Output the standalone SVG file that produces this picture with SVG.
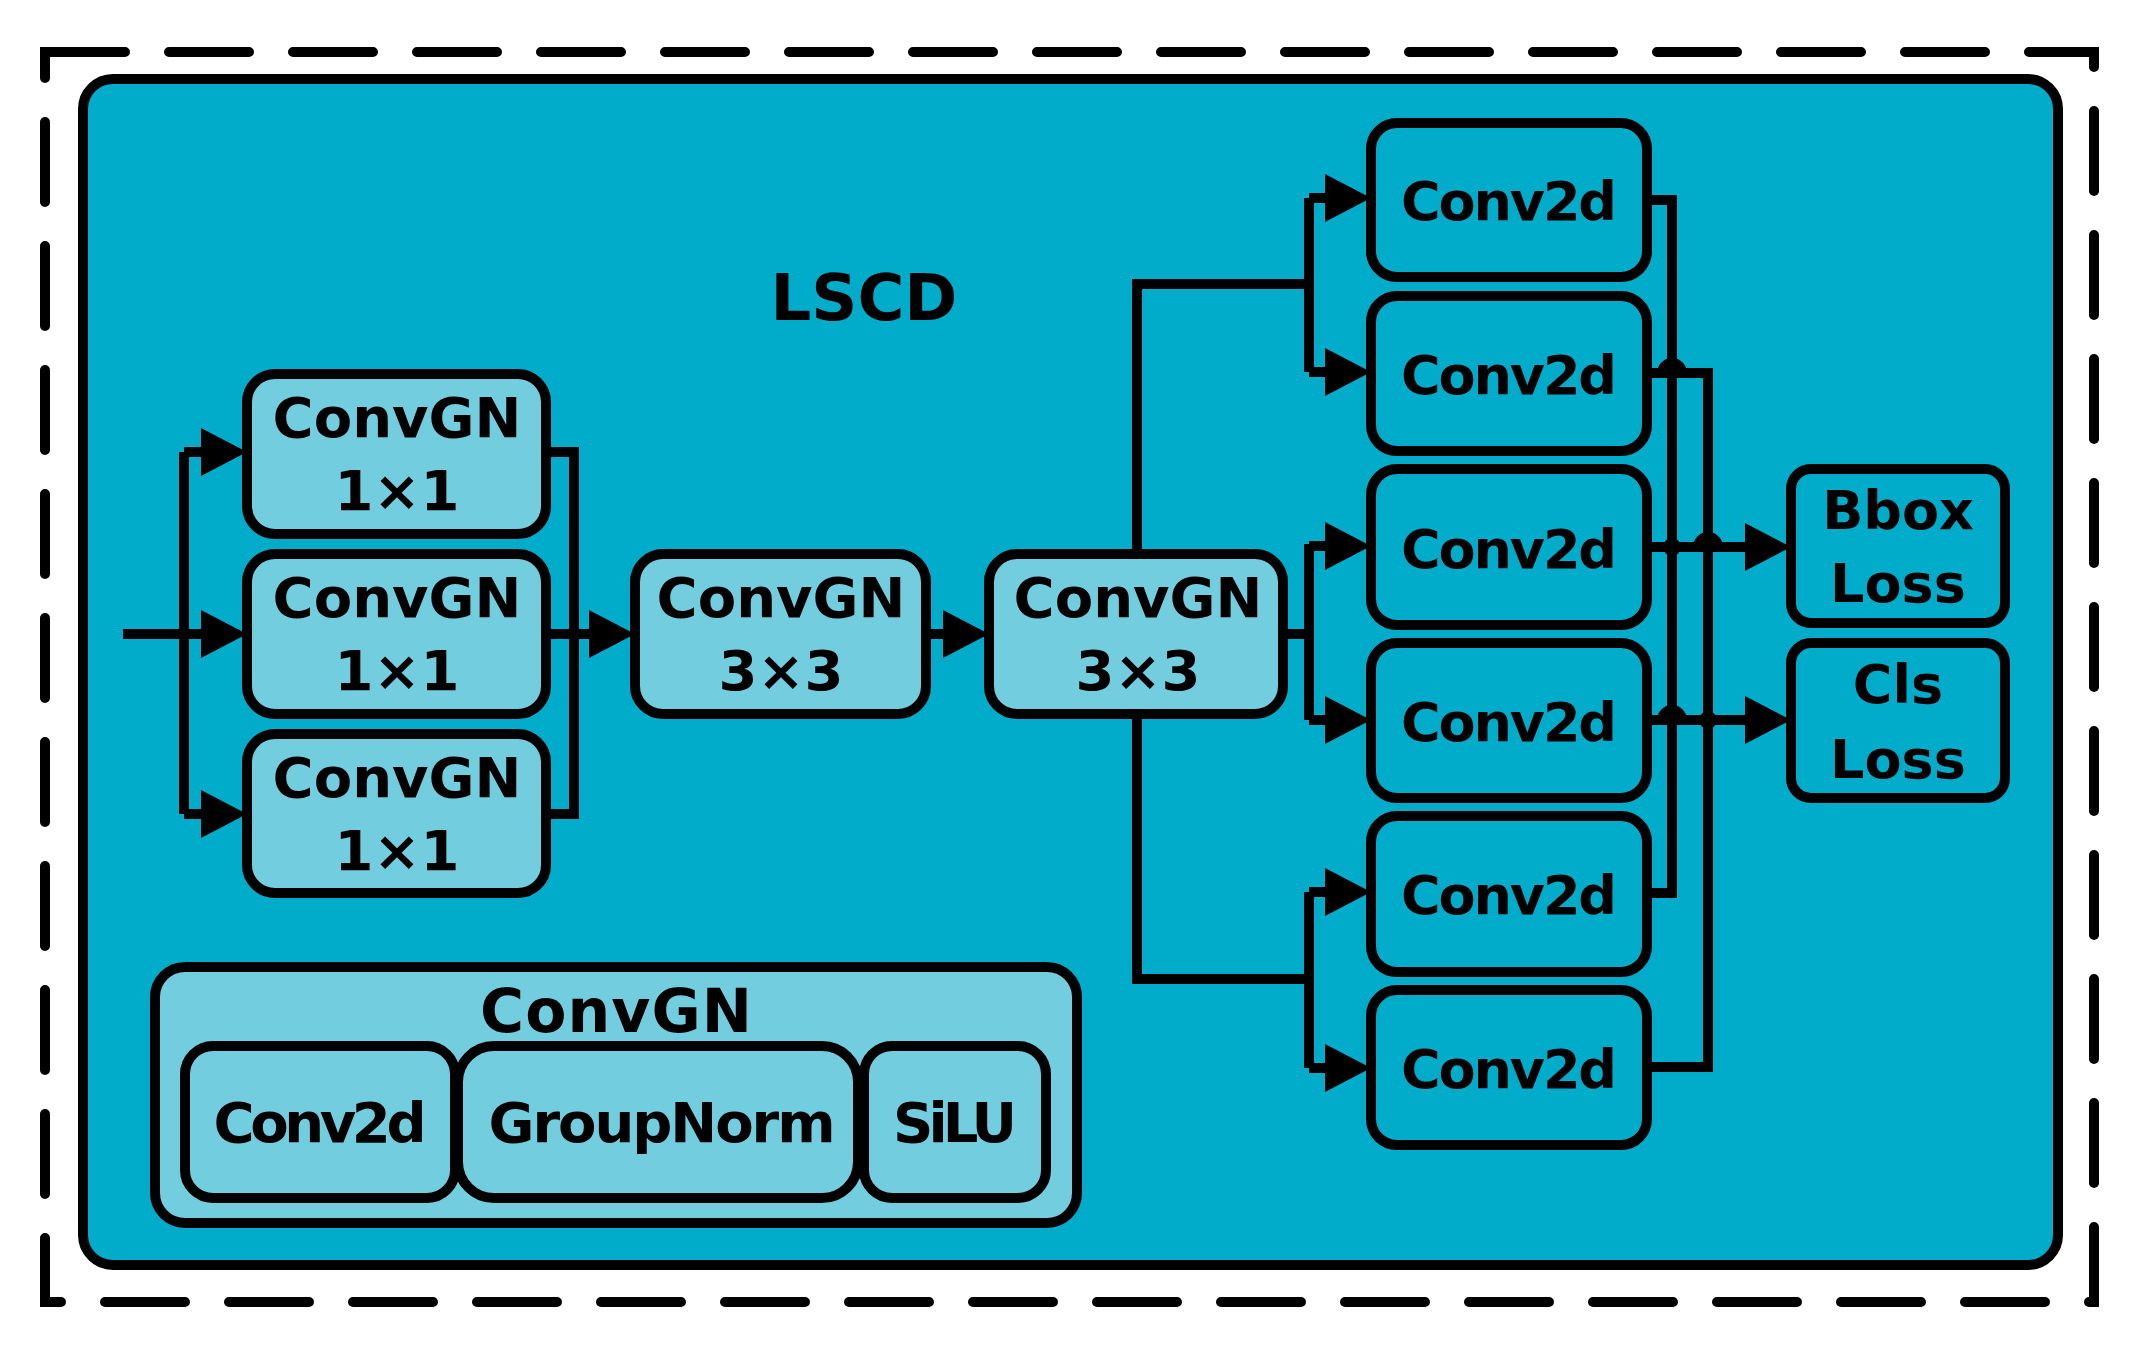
<svg xmlns="http://www.w3.org/2000/svg" width="2139" height="1349" viewBox="0 0 2139 1349">
<style>
.bx{fill:#72CDDF;stroke:#000;stroke-width:10}
.bd{fill:#00ACC9;stroke:#000;stroke-width:10}
.t{font-family:"DejaVu Sans","Liberation Sans",sans-serif;font-weight:bold;fill:#000;text-anchor:middle}
.c{fill:none;stroke:#000;stroke-width:10;stroke-linejoin:miter}
</style>
<defs>
<polygon id="ah" points="0,0 -46,-24 -46,24" fill="#000"/>
</defs>
<rect x="45" y="52" width="2049" height="1250" fill="none" stroke="#000" stroke-width="10" stroke-dasharray="80 44" stroke-linecap="round"/>
<rect id="panel" x="83" y="79" width="1975" height="1186" rx="30" fill="#00ACC9" stroke="#000" stroke-width="10"/>
<text class="t" x="864" y="320" font-size="64">LSCD</text>

<g id="connectors">
<path class="c" d="M123,634 H203 M184,634 M184,452 V814 M184,452 H203 M184,814 H203"/>
<path class="c" d="M546,452 H574 V814 H546 M546,634 H590"/>
<path class="c" d="M926,634 H945"/>
<path class="c" d="M1137,554 V284 H1309 M1137,714 V979 H1309 M1283,634 H1309"/>
<path class="c" d="M1309,198 V372 M1309,198 H1327 M1309,372 H1327"/>
<path class="c" d="M1309,544 V720 M1309,546 H1327 M1309,720 H1327"/>
<path class="c" d="M1309,892 V1068 M1309,892 H1327 M1309,1068 H1327"/>
<path class="c" d="M1647,200 H1672 V893 H1647"/>
<path class="c" d="M1647,373 H1662 A10,10 0 0 1 1682,373 H1708 V1067 H1647"/>
<path class="c" d="M1647,547 H1698 A10,10 0 0 1 1718,547 H1750"/>
<path class="c" d="M1647,720 H1662 A10,10 0 0 1 1682,720 H1750"/>
<circle cx="1672" cy="547" r="9"/>
<circle cx="1708" cy="720" r="9"/>
<use href="#ah" x="247" y="452"/>
<use href="#ah" x="247" y="634"/>
<use href="#ah" x="247" y="814"/>
<use href="#ah" x="635" y="634"/>
<use href="#ah" x="989" y="634"/>
<use href="#ah" x="1371" y="198"/>
<use href="#ah" x="1371" y="372"/>
<use href="#ah" x="1371" y="546"/>
<use href="#ah" x="1371" y="720"/>
<use href="#ah" x="1371" y="892"/>
<use href="#ah" x="1371" y="1068"/>
<use href="#ah" x="1791" y="547"/>
<use href="#ah" x="1791" y="720"/>
</g>

<g id="cgn1"><rect class="bx" x="247" y="374" width="299" height="160" rx="28"/><text class="t" x="397" y="437" font-size="56">ConvGN</text><text class="t" x="397" y="510" font-size="56">1×1</text></g>
<g id="cgn2"><rect class="bx" x="247" y="554" width="299" height="160" rx="28"/><text class="t" x="397" y="617" font-size="56">ConvGN</text><text class="t" x="397" y="690" font-size="56">1×1</text></g>
<g id="cgn3"><rect class="bx" x="247" y="734" width="299" height="159" rx="28"/><text class="t" x="397" y="797" font-size="56">ConvGN</text><text class="t" x="397" y="870" font-size="56">1×1</text></g>
<g id="cgn33a"><rect class="bx" x="635" y="554" width="291" height="160" rx="28"/><text class="t" x="781" y="617" font-size="56">ConvGN</text><text class="t" x="781" y="690" font-size="56">3×3</text></g>
<g id="cgn33b"><rect class="bx" x="989" y="554" width="294" height="160" rx="28"/><text class="t" x="1138" y="617" font-size="56">ConvGN</text><text class="t" x="1138" y="690" font-size="56">3×3</text></g>

<g id="c2d1"><rect class="bd" x="1371" y="123" width="276" height="154" rx="26"/><text class="t" x="1509" y="220" font-size="54" textLength="216">Conv2d</text></g>
<g id="c2d2"><rect class="bd" x="1371" y="296" width="276" height="155" rx="26"/><text class="t" x="1509" y="394" font-size="54" textLength="216">Conv2d</text></g>
<g id="c2d3"><rect class="bd" x="1371" y="469" width="276" height="156" rx="26"/><text class="t" x="1509" y="568" font-size="54" textLength="216">Conv2d</text></g>
<g id="c2d4"><rect class="bd" x="1371" y="643" width="276" height="155" rx="26"/><text class="t" x="1509" y="741" font-size="54" textLength="216">Conv2d</text></g>
<g id="c2d5"><rect class="bd" x="1371" y="816" width="276" height="156" rx="26"/><text class="t" x="1509" y="914" font-size="54" textLength="216">Conv2d</text></g>
<g id="c2d6"><rect class="bd" x="1371" y="990" width="276" height="155" rx="26"/><text class="t" x="1509" y="1088" font-size="54" textLength="216">Conv2d</text></g>

<g id="bbox"><rect class="bd" x="1791" y="469" width="214" height="154" rx="20"/><text class="t" x="1898" y="529" font-size="54">Bbox</text><text class="t" x="1898" y="602" font-size="54">Loss</text></g>
<g id="cls"><rect class="bd" x="1791" y="643" width="214" height="155" rx="20"/><text class="t" x="1898" y="703" font-size="54">Cls</text><text class="t" x="1898" y="778" font-size="54">Loss</text></g>

<g id="legend">
<rect class="bx" x="155" y="967" width="922" height="256" rx="30"/>
<text class="t" x="616" y="1032" font-size="60" textLength="272">ConvGN</text>
<rect class="bx" x="185" y="1046" width="270" height="152" rx="28"/>
<text class="t" x="320" y="1142" font-size="56" textLength="213">Conv2d</text>
<rect class="bx" x="458" y="1046" width="400" height="152" rx="36"/>
<text class="t" x="662" y="1142" font-size="56" textLength="347">GroupNorm</text>
<rect class="bx" x="864" y="1046" width="182" height="152" rx="28"/>
<text class="t" x="955" y="1142" font-size="56" textLength="124">SiLU</text>
</g>
</svg>
